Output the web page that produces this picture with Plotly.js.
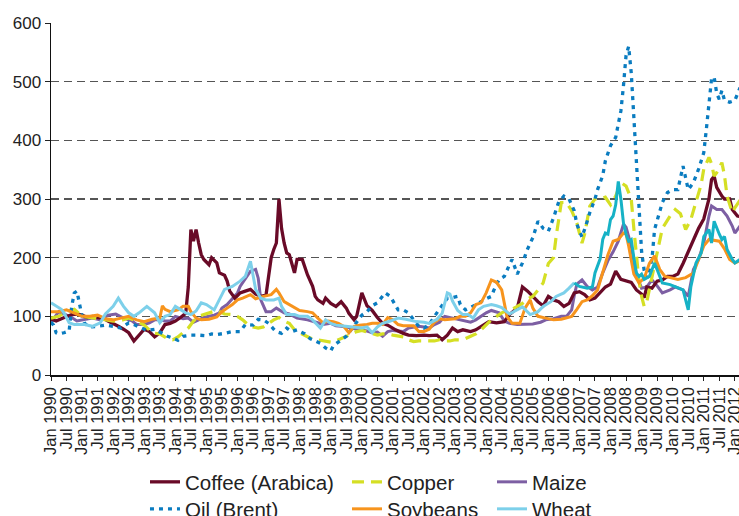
<!DOCTYPE html>
<html>
<head>
<meta charset="utf-8">
<script src="https://cdn.plot.ly/plotly-3.0.1.min.js"></script>
<style>html,body{margin:0;padding:0;background:#fff;}#chart{width:739px;height:516px;}</style>
</head>
<body>
<div id="chart"></div>
<script>
// Month index: 0 = Jan 1990
const tickHalves = ['Jan', 'Jul'];
const tickYears = [1990,1991,1992,1993,1994,1995,1996,1997,1998,1999,2000,2001,2002,2003,2004,2005,2006,2007,2008,2009,2010,2011,2012];

const coffeeMonths = [0,2,4,6,8,10,12,14,16,18,20,22,24,26,28,30,32,34,36,38,40,42,44,46,48,50,52,53,54,55,56,57,58,59,61,62,64,65,67,68,69,71,73,75,77,79,81,83,85,86,87,88,89,90,91,92,94,95,97,99,101,102,103,105,106,108,110,112,114,115,117,118,120,122,124,126,128,130,133,136,138,141,144,146,149,151,153,155,157,159,162,164,167,169,172,175,177,180,182,184,186,188,190,192,194,196,198,200,202,204,206,208,210,212,214,216,218,220,222,224,226,228,229,230,232,234,236,238,240,242,244,246,248,250,252,254,255,256,257,258,259,260,262,263,265,266];
const coffeeValues = [95,92,96,100,103,104,102,98,100,98,97,92,88,83,78,72,58,68,78,74,65,72,86,88,92,98,105,150,248,228,248,225,205,197,188,200,191,174,170,160,143,131,140,143,146,138,134,136,200,214,225,300,250,225,208,205,174,197,197,171,151,134,128,122,131,122,117,125,114,105,94,100,140,118,110,98,88,85,77,71,68,67,68,67,68,60,68,80,74,77,74,77,86,91,89,91,103,114,150,143,134,125,118,134,128,125,117,122,140,142,137,128,131,140,150,155,177,163,160,158,145,138,132,150,148,160,162,168,168,172,190,210,231,250,266,300,333,339,320,311,305,300,300,282,271,270];

const oilMonths = [0,1,2,3,5,7,8,9,10,11,12,13,15,18,21,24,27,30,32,35,37,40,42,45,47,49,51,54,57,60,62,64,67,70,73,75,78,80,82,84,86,87,89,91,93,95,98,100,102,104,106,108,109,111,114,116,118,120,122,124,126,128,129,131,133,134,136,138,140,142,144,146,148,150,152,153,155,157,158,160,162,164,166,168,170,171,173,175,177,178,180,182,184,186,188,190,192,194,196,198,200,202,203,205,207,208,210,211,213,214,216,218,219,220,221,222,223,224,225,226,227,228,229,230,231,232,233,235,236,238,240,242,244,246,248,250,252,253,254,255,256,257,258,259,260,262,264,265,266];
const oilValues = [90,85,72,70,72,75,117,140,143,122,100,88,82,83,85,83,80,89,86,80,76,78,73,66,63,59,66,68,68,67,70,69,71,74,74,86,85,95,94,88,78,74,71,80,74,77,70,62,58,54,46,41,50,57,66,78,90,102,108,118,123,135,140,134,118,111,111,106,94,83,80,86,100,112,125,131,132,134,120,111,115,120,126,130,134,145,163,168,188,197,172,191,215,234,262,250,245,268,295,305,300,280,257,235,262,277,300,316,340,365,391,405,428,450,493,545,560,515,440,360,290,210,178,165,180,197,248,277,294,311,316,316,356,316,328,351,379,419,460,505,508,480,470,485,468,465,468,478,490];

const copperMonths = [0,3,6,9,12,15,18,21,24,27,30,33,36,39,42,45,47,49,51,53,55,57,59,62,64,67,70,72,74,76,78,80,82,84,86,88,90,92,94,96,98,100,103,106,108,110,112,114,116,118,120,122,124,126,128,130,132,134,136,138,140,142,144,146,148,150,152,154,156,158,160,162,164,166,168,170,172,174,176,178,180,182,184,186,188,190,192,194,195,196,197,199,201,203,205,206,208,210,212,214,216,218,220,222,224,225,226,227,228,229,230,231,233,234,236,239,241,243,245,247,249,251,252,254,255,256,257,259,260,261,263,264,266];
const copperValues = [97,100,108,112,100,98,97,95,92,93,97,92,85,72,70,62,60,65,72,80,92,100,103,108,110,104,103,100,94,86,82,80,82,88,94,98,92,88,77,72,68,63,60,58,56,58,62,66,70,74,76,73,70,68,70,70,68,66,65,60,57,58,58,57,58,60,58,58,60,60,62,66,70,77,85,94,100,106,110,112,117,122,130,134,145,157,190,200,236,270,294,294,280,259,225,240,288,300,300,303,290,305,328,322,300,250,200,160,134,117,125,145,185,210,250,271,282,275,248,265,295,325,351,371,360,339,345,362,340,305,277,285,298];

const maizeMonths = [0,3,5,8,10,13,16,19,22,25,28,31,33,36,38,40,42,44,46,48,51,53,55,57,59,61,63,65,66,68,70,72,73,75,77,79,80,81,83,85,87,90,92,95,99,103,105,108,110,112,114,116,118,120,122,124,126,128,130,132,134,136,138,140,142,144,146,148,150,152,154,156,158,160,162,164,166,168,170,173,175,177,180,183,186,189,191,194,197,199,201,202,203,205,207,209,211,213,215,217,219,221,222,224,226,228,230,232,234,236,239,241,244,246,248,250,252,254,255,257,259,261,263,264,266];
const maizeValues = [90,108,104,98,92,94,97,94,102,104,97,93,86,86,89,94,94,92,92,100,96,97,90,94,98,100,102,106,114,120,131,140,151,163,177,180,165,128,108,108,114,106,104,97,94,89,86,88,84,83,82,80,78,77,75,72,73,66,74,76,75,74,80,82,83,82,80,86,90,100,98,96,94,92,90,94,100,106,110,106,92,88,86,86,87,90,94,96,100,100,111,135,155,162,151,145,150,174,195,210,228,257,252,220,170,148,150,162,152,140,145,150,145,134,180,197,225,271,288,282,282,271,254,242,254];

const soyMonths = [0,3,6,9,12,15,18,21,24,27,30,33,36,39,42,43,44,46,49,51,53,54,56,58,61,64,66,68,70,72,74,77,79,82,85,87,88,90,92,94,96,99,101,103,105,107,109,111,113,115,117,119,122,124,126,128,130,132,134,136,138,140,142,144,146,148,150,152,154,156,158,160,162,164,166,168,170,172,174,175,176,178,181,183,185,186,188,191,194,197,199,201,203,205,207,209,211,213,215,217,219,221,222,223,224,225,227,229,231,233,235,237,239,242,245,248,250,252,254,256,258,260,262,264,266];
const soyValues = [108,108,111,105,100,100,102,96,94,97,100,94,91,95,97,118,112,108,111,117,117,108,97,94,95,99,108,114,120,128,131,137,130,134,137,146,140,125,120,114,110,108,106,97,89,92,91,88,83,72,83,85,86,88,88,86,98,94,86,84,84,84,74,74,78,90,96,94,95,96,100,100,106,120,123,140,162,158,145,122,100,88,88,114,128,114,100,97,94,95,97,100,112,125,128,135,145,175,205,228,231,242,240,220,195,172,157,165,190,203,180,168,166,163,166,174,197,220,231,229,228,215,197,191,195];

const wheatMonths = [0,2,4,5,7,9,11,13,16,19,21,23,24,26,28,30,32,34,37,40,42,44,46,48,50,52,54,56,58,60,63,65,67,70,73,75,77,78,79,81,83,86,88,89,91,94,96,99,101,104,106,108,110,112,114,116,118,120,122,124,126,128,131,134,137,141,144,146,149,151,153,154,155,157,159,161,163,165,167,170,172,174,177,180,182,185,188,190,193,195,198,200,202];
const wheatValues = [123,117,112,106,89,86,86,86,83,89,104,112,117,131,117,106,100,106,117,106,89,100,103,117,111,106,103,109,123,120,111,130,146,151,160,168,194,170,146,131,128,128,131,117,103,103,100,100,94,80,94,88,85,84,83,81,80,80,82,72,82,88,92,97,95,91,90,88,95,105,140,138,126,110,103,103,97,111,117,120,118,115,104,111,116,103,108,117,125,134,140,148,157];
// same Wheat series, drawn in a deeper cyan from late 2006 onward in the reference
const wheatLateMonths = [202,204,207,209,210,212,213,214,215,216,217,218,219,220,221,222,223,224,225,226,227,228,229,231,233,235,236,239,242,244,246,247,249,251,252,254,255,256,258,259,260,261,263,264,266];
const wheatLateValues = [157,151,148,150,174,198,231,242,240,265,271,290,330,300,259,240,228,231,200,174,168,172,163,168,191,170,157,154,148,145,111,150,191,208,236,248,225,262,240,231,236,214,197,191,197];

const tickVals = [];
const tickText = [];
tickYears.forEach(function (yr, i) {
  tickHalves.forEach(function (h, j) {
    const m = i * 12 + j * 6;
    if (m <= 264) { tickVals.push(m); tickText.push(h + ' ' + yr); }
  });
});

function line(name, x, y, color, dash, width, legend, showlegend) {
  return {
    type: 'scatter', mode: 'lines', name: name, x: x, y: y,
    line: {color: color, width: width, dash: dash},
    legend: legend, showlegend: showlegend, hoverinfo: 'skip'
  };
}

const traces = [
  line('Maize', maizeMonths, maizeValues, '#7d5fa3', 'solid', 3, 'legend3', true),
  line('Coffee (Arabica)', coffeeMonths, coffeeValues, '#690a27', 'solid', 3.3, 'legend', true),
  line('Copper', copperMonths, copperValues, '#d5df24', '12px,7px', 3.2, 'legend2', true),
  line('Oil (Brent)', oilMonths, oilValues, '#0a7cc0', '4px,5px', 3.3, 'legend4', true),
  line('Soybeans', soyMonths, soyValues, '#f7941d', 'solid', 3, 'legend5', true),
  line('Wheat', wheatMonths, wheatValues, '#7dd0ea', 'solid', 3, 'legend6', true),
  line('Wheat', wheatLateMonths, wheatLateValues, '#16b2c6', 'solid', 3, 'legend6', false)
];

const fontFam = 'Liberation Sans, Arial, sans-serif';
function leg(x, y) {
  return {
    orientation: 'v', xref: 'paper', yref: 'paper', xanchor: 'left', yanchor: 'top',
    x: x, y: y, bgcolor: 'rgba(0,0,0,0)', borderwidth: 0,
    font: {family: fontFam, size: 20.5, color: '#222'}
  };
}
const col1 = 0.1366, col2 = 0.4302, col3 = 0.641;
const row1 = -0.2472, row2 = -0.3239;

const layout = {
  width: 739, height: 516,
  margin: {l: 51, r: 0, t: 23, b: 141, autoexpand: false},
  paper_bgcolor: '#ffffff', plot_bgcolor: '#ffffff',
  font: {family: fontFam, color: '#222'},
  xaxis: {
    range: [0, 265.6], tickmode: 'array', tickvals: tickVals, ticktext: tickText,
    tickangle: -90, ticks: 'outside', ticklen: 4, tickcolor: '#222', tickwidth: 1,
    ticklabeloverflow: 'allow',
    showline: true, linecolor: '#111', linewidth: 1.5, showgrid: false, zeroline: false,
    tickfont: {family: fontFam, size: 16.5, color: '#222'}
  },
  yaxis: {
    range: [0, 600], dtick: 100, tick0: 0, ticks: 'outside', ticklen: 5, tickcolor: '#222',
    showline: true, linecolor: '#111', linewidth: 1.5, zeroline: false,
    showgrid: true, gridcolor: '#555', gridwidth: 1.2, griddash: '8px,5px',
    tickfont: {family: fontFam, size: 17, color: '#222'}
  },
  legend: leg(col1, row1),
  legend2: leg(col2, row1),
  legend3: leg(col3, row1),
  legend4: leg(col1, row2),
  legend5: leg(col2, row2),
  legend6: leg(col3, row2),
  showlegend: true
};

Plotly.newPlot('chart', traces, layout, {staticPlot: true, displayModeBar: false});
</script>
</body>
</html>
